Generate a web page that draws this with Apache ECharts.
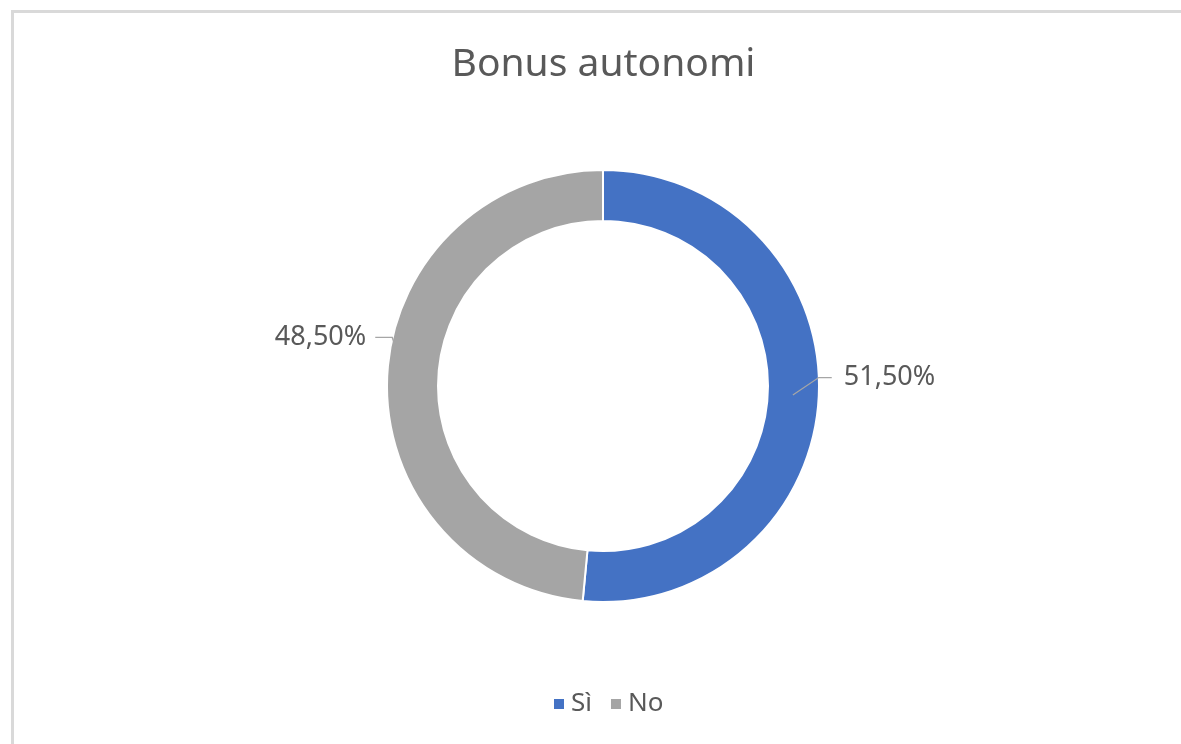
<!DOCTYPE html>
<html>
<head>
<meta charset="utf-8">
<script src="https://cdn.jsdelivr.net/npm/echarts@6/dist/echarts.min.js"></script>
<style>
  html, body { margin: 0; padding: 0; background: #fff; overflow: hidden; }
  #frame {
    position: absolute; left: 11px; top: 10px; width: 1300px; height: 900px;
    border-left: 3px solid #d9d9d9; border-top: 3px solid #d9d9d9;
  }
  /* the Excel chart area starts at x=13, so center everything on its middle */
  #chart { position: absolute; left: 13px; top: 0; width: 1181px; height: 744px; }
</style>
</head>
<body>
<div id="frame"></div>
<div id="chart"></div>
<script>
  const categories = ["Sì", "No"];
  const values = [51.5, 48.5];
  const colors = ["#4472C4", "#A5A5A5"];

  const center = [590, 386];
  const radius = [165, 216];
  let myChart = echarts.init(document.getElementById("chart"));

  let pieData = categories.map((c, i) => ({ name: c, value: values[i], itemStyle: { color: colors[i] } }));
  // same data, invisible slices: only carries labels + leader lines so they sit above the ring
  let labelData = categories.map((c, i) => ({ name: c, value: values[i] }));

  myChart.setOption({
    textStyle: { fontFamily: "Noto Sans" },
    title: {
      text: "Bonus autonomi",
      left: "center",
      top: 40,
      textStyle: { color: "#595959", fontSize: 39, fontWeight: "normal", fontFamily: "Noto Sans" },
    },
    legend: {
      data: categories.map((c, i) => ({ name: c, itemStyle: { color: colors[i] } })),
      bottom: 22,
      left: 534,
      icon: "rect",
      itemWidth: 12,
      itemHeight: 12,
      itemGap: 17,
      textStyle: { color: "#595959", fontSize: 26, fontFamily: "Noto Sans", padding: [0, 0, 0, 1] },
    },
    series: [
      {
        type: "pie",
        center: center,
        radius: radius,
        startAngle: 90,
        clockwise: true,
        animation: false,
        data: pieData,
        itemStyle: { borderColor: "#fff", borderWidth: 2 },
        label: { show: false },
        labelLine: { show: false },
      },
      {
        type: "pie",
        center: center,
        radius: radius,
        startAngle: 90,
        clockwise: true,
        animation: false,
        silent: true,
        z: 5,
        avoidLabelOverlap: false,
        data: labelData,
        itemStyle: { color: "rgba(0,0,0,0)", borderWidth: 0 },
        emphasis: { disabled: true },
        label: {
          show: true,
          position: "outside",
          color: "#595959",
          fontSize: 27,
          fontFamily: "Noto Sans",
          formatter: (p) => p.value.toFixed(2).replace(".", ",") + "%",
        },
        labelLine: {
          show: true,
          length: 8,
          length2: 12,
          lineStyle: { color: "#a6a6a6", width: 1.3 },
        },
        // Excel-like leader lines: labels lifted above the slice middle
        labelLayout: function (params) {
          const r = params.labelRect;
          const p0 = params.labelLinePoints[0];
          if (params.dataIndex === 0) {
            const dy = -19;
            const cy = r.y + r.height / 2 + dy;
            const start = [center[0] + (p0[0] - center[0]) * 0.88, center[1] + (p0[1] - center[1]) * 0.88];
            return {
              dy: dy,
              labelLinePoints: [start, [r.x - 25, cy], [r.x - 12, cy]],
            };
          }
          const dy = -38;
          const dx = 4;
          const cy = r.y + r.height / 2 + dy;
          const end = [r.x + r.width + dx + 9, cy];
          return {
            dx: dx,
            dy: dy,
            labelLinePoints: [[end[0] + 19, cy + 6], [end[0] + 17, cy], end],
          };
        },
      },
    ],
  });
</script>
</body>
</html>
